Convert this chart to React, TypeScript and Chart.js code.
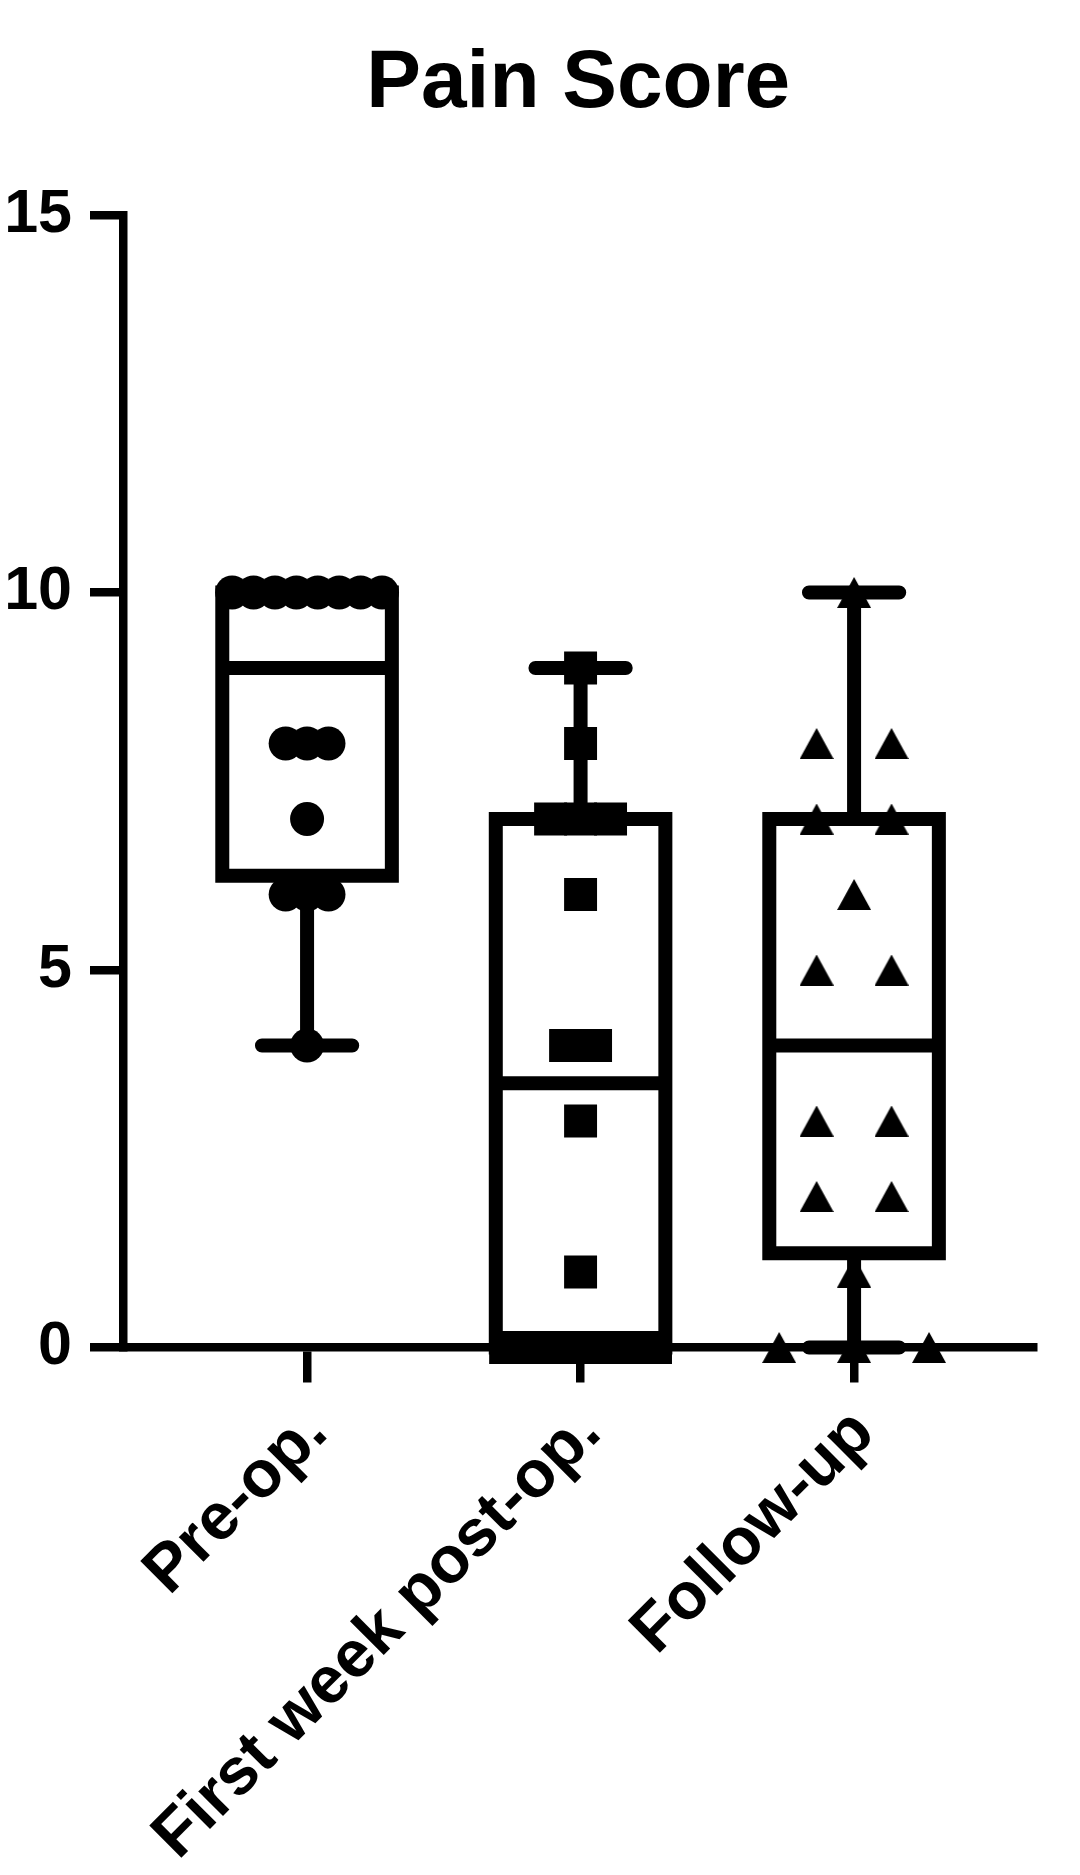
import React, { useEffect, useRef } from 'react';
import { Chart, registerables } from 'chart.js';

Chart.register(...registerables);

// ---- data ----
const CATEGORIES = ['Pre-op.', 'First week post-op.', 'Follow-up'];
const PRE_OP = [10, 10, 10, 10, 10, 10, 10, 10, 8, 8, 8, 7, 6, 6, 6, 4];
const FIRST_WEEK = [9, 8, 7, 7, 7, 6, 4, 4, 3, 1, 0, 0, 0, 0, 0, 0];
const FOLLOW_UP = [10, 8, 8, 7, 7, 6, 5, 5, 3, 3, 2, 2, 1, 0, 0, 0];
const Y_TICKS = [0, 5, 10, 15];
const TITLE = 'Pain Score';

// ---- style ----
const FONT = '"Liberation Sans", Arial, Helvetica, sans-serif';
const BLACK = '#000000';
const X_MIN = -0.673;
const X_MAX = 2.656;
const BOX_HALF = 0.31;
const CAP_HALF = 0.165;
const SPREAD = 0.548;
const LINE_W = 14;
const AXIS_W = 8.5;

function percentile(sorted: number[], p: number) {
  const n = sorted.length;
  const r = p * (n + 1);
  if (r <= 1) return sorted[0];
  if (r >= n) return sorted[n - 1];
  const lo = Math.floor(r);
  const f = r - lo;
  return sorted[lo - 1] + f * (sorted[lo] - sorted[lo - 1]);
}

function spreadPoints(values: number[], idx: number) {
  const counts = new Map<number, number>();
  values.forEach((v) => counts.set(v, (counts.get(v) || 0) + 1));
  const maxCount = Math.max(...Array.from(counts.values()));
  const step = maxCount > 1 ? SPREAD / (maxCount - 1) : 0;
  const pts: { x: number; y: number }[] = [];
  counts.forEach((k, v) => {
    for (let i = 0; i < k; i++) pts.push({ x: idx + (i - (k - 1) / 2) * step, y: v });
  });
  return pts;
}

function makeTriangle(w: number, h: number) {
  const c = document.createElement('canvas');
  c.width = w;
  c.height = h;
  const g = c.getContext('2d')!;
  g.fillStyle = BLACK;
  g.beginPath();
  g.moveTo(w / 2, 0);
  g.lineTo(w, h);
  g.lineTo(0, h);
  g.closePath();
  g.fill();
  return c;
}

function buildDatasets() {
  const groups = [PRE_OP, FIRST_WEEK, FOLLOW_UP];
  const tri = makeTriangle(34, 31);
  const markers: any[] = [
    { pointStyle: 'circle', pointRadius: 17 },
    { pointStyle: 'rect', pointRadius: 23.3 },
    { pointStyle: tri, pointRadius: 17 },
  ];
  const ds: any[] = [];
  groups.forEach((vals, i) => {
    const s = [...vals].sort((a, b) => a - b);
    const q1 = percentile(s, 0.25);
    const med = percentile(s, 0.5);
    const q3 = percentile(s, 0.75);
    const mn = s[0];
    const mx = s[s.length - 1];
    const lineBase = {
      showLine: true,
      pointRadius: 0,
      borderColor: BLACK,
      backgroundColor: BLACK,
      borderWidth: LINE_W,
      fill: false,
      clip: false,
      spanGaps: false,
      order: 1,
    };
    ds.push({
      ...lineBase,
      label: `box-${i}`,
      borderCapStyle: 'square',
      borderJoinStyle: 'miter',
      data: [
        { x: i - BOX_HALF, y: q1 },
        { x: i - BOX_HALF, y: q3 },
        { x: i + BOX_HALF, y: q3 },
        { x: i + BOX_HALF, y: q1 },
        { x: i - BOX_HALF, y: q1 },
      ],
    });
    ds.push({
      ...lineBase,
      label: `median-${i}`,
      borderCapStyle: 'butt',
      data: [
        { x: i - BOX_HALF, y: med },
        { x: i + BOX_HALF, y: med },
      ],
    });
    ds.push({
      ...lineBase,
      label: `whisker-${i}`,
      borderCapStyle: 'butt',
      data: [
        { x: i, y: q3 },
        { x: i, y: mx },
        { x: i, y: null },
        { x: i, y: q1 },
        { x: i, y: mn },
      ],
    });
    ds.push({
      ...lineBase,
      label: `cap-${i}`,
      borderCapStyle: 'round',
      data: [
        { x: i - CAP_HALF, y: mx },
        { x: i + CAP_HALF, y: mx },
        { x: i, y: null },
        { x: i - CAP_HALF, y: mn },
        { x: i + CAP_HALF, y: mn },
      ],
    });
    ds.push({
      label: CATEGORIES[i],
      data: spreadPoints(vals, i),
      showLine: false,
      ...markers[i],
      backgroundColor: BLACK,
      borderColor: BLACK,
      borderWidth: 0,
      clip: false,
      order: 0,
    });
  });
  return ds;
}

export default function App() {
  const ref = useRef<HTMLCanvasElement>(null);
  useEffect(() => {
    const chart = new Chart(ref.current!, {
      type: 'scatter',
      data: { datasets: buildDatasets() },
      options: {
        responsive: false,
        animation: false,
        devicePixelRatio: 1,
        events: [],
        layout: { padding: { left: 0, right: 46.5, top: 0, bottom: 0 } },
        plugins: {
          legend: { display: false },
          tooltip: { enabled: false },
          title: {
            display: true,
            text: TITLE,
            color: BLACK,
            fullSize: false,
            font: { family: FONT, size: 82, weight: 'bold' },
            padding: { top: 35.4, bottom: 81.2 },
          },
        },
        scales: {
          x: {
            type: 'linear',
            position: 'bottom',
            min: X_MIN,
            max: X_MAX,
            afterBuildTicks: (s: any) => {
              s.ticks = CATEGORIES.map((_, i) => ({ value: i }));
            },
            afterFit: (s: any) => {
              s.height = 527.5;
            },
            ticks: {
              autoSkip: false,
              minRotation: 45,
              maxRotation: 45,
              padding: 12,
              labelOffset: 10,
              color: BLACK,
              font: { family: FONT, size: 66, weight: 'bold' },
              callback: (v: any) => CATEGORIES[Math.round(Number(v))] ?? '',
            },
            grid: {
              drawOnChartArea: false,
              drawTicks: true,
              tickLength: 35,
              lineWidth: AXIS_W,
              tickWidth: AXIS_W,
              color: BLACK,
            },
            border: { display: true, width: AXIS_W, color: BLACK },
          },
          y: {
            type: 'linear',
            min: 0,
            max: 15,
            afterBuildTicks: (s: any) => {
              s.ticks = Y_TICKS.map((v) => ({ value: v }));
            },
            afterFit: (s: any) => {
              s.width = 123;
            },
            ticks: { padding: 18, color: BLACK, font: { family: FONT, size: 61, weight: 'bold' } },
            grid: {
              drawOnChartArea: false,
              drawTicks: true,
              tickLength: 33,
              lineWidth: AXIS_W,
              tickWidth: AXIS_W,
              color: BLACK,
            },
            border: { display: true, width: AXIS_W, color: BLACK },
          },
        },
      } as any,
    });
    return () => chart.destroy();
  }, []);
  return (
    <div style={{ position: 'absolute', left: 0, top: 0, width: 1080, height: 1875, background: '#ffffff' }}>
      <canvas ref={ref} width={1080} height={1875} style={{ display: 'block', width: 1080, height: 1875 }} />
    </div>
  );
}
